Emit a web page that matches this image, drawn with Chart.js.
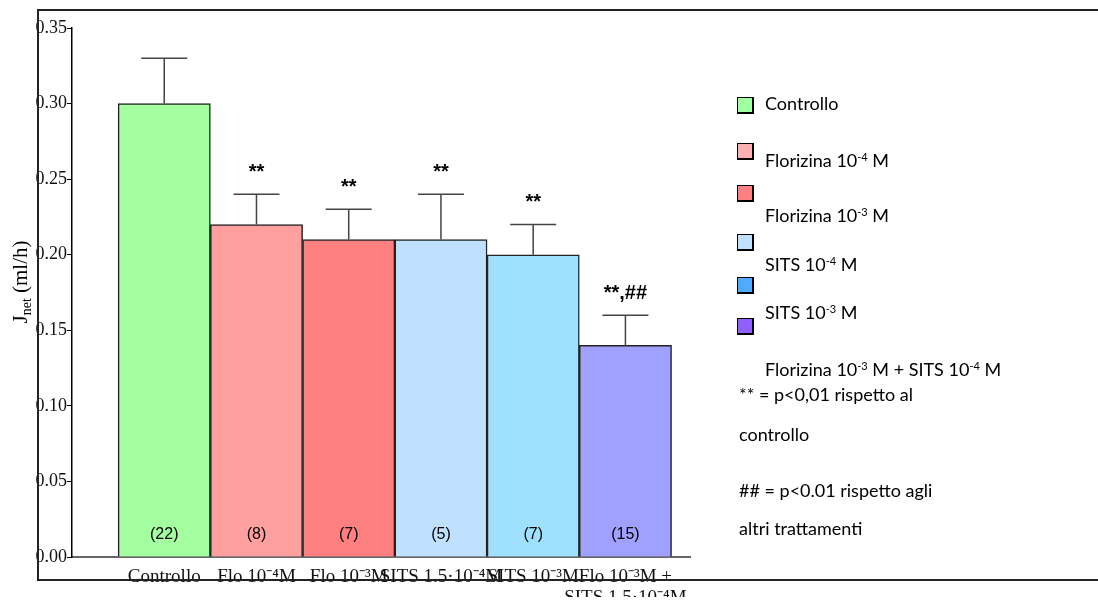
<!DOCTYPE html>
<html>
<head>
<meta charset="utf-8">
<script src="https://cdn.jsdelivr.net/npm/chart.js@4.4.1/dist/chart.umd.min.js"></script>
<style>
  html, body { margin:0; padding:0; background:#fff; }
  #wrap { position:relative; width:1098px; height:612px; }
  canvas { position:absolute; left:0; top:0; }
  .lg { position:absolute; font-family:'Comic Sans MS','Lato','Noto Sans',sans-serif; font-size:18px; color:#000; white-space:nowrap; line-height:1; transform:translateY(-50%); }
  .lg sup { font-size:11px; vertical-align:6px; line-height:0; }
  .sq { position:absolute; width:14px; height:14px; border:1px solid #000; border-right-width:2px; border-bottom-width:2px; }
</style>
</head>
<body>
<div id="wrap">
<canvas id="c" width="1098" height="612"></canvas>
</div>
<script>
// ---- data ----
const categories = ["Controllo", "Flo 10-4M", "Flo 10-3M", "SITS 1.5·10-4M", "SITS 10-3M", "Flo 10-3M + SITS 1.5·10-4M"];
const xLabels = ["Controllo", "Flo 10⁻⁴M", "Flo 10⁻³M", "SITS 1.5·10⁻⁴M", "SITS 10⁻³M", ["Flo 10⁻³M +", "SITS 1.5·10⁻⁴M"]];
const means = [0.30, 0.22, 0.21, 0.21, 0.20, 0.14];
const errors = [0.03, 0.02, 0.02, 0.03, 0.02, 0.02];
const nLabels = ["(22)", "(8)", "(7)", "(5)", "(7)", "(15)"];
const sigLabels = ["", "**", "**", "**", "**", "**,##"];
const barColors = ["#a3ff9f", "#ffa0a0", "#ff8080", "#c0e0ff", "#a0e0ff", "#a0a0ff"];
const yTicks = [0, 0.05, 0.10, 0.15, 0.20, 0.25, 0.30, 0.35];
const legendItems = ["Controllo", "Florizina 10<sup>-4</sup> M", "Florizina 10<sup>-3</sup> M", "SITS 10<sup>-4</sup> M", "SITS 10<sup>-3</sup> M"];
const legendColors = ["#a0ffa0", "#ffb0b0", "#ff8080", "#c0e0ff", "#50aaff", "#9060ff"];

// ---- plugins ----
const extras = {
  id: 'extras',
  afterDatasetsDraw(chart) {
    const ctx = chart.ctx;
    const meta = chart.getDatasetMeta(0);
    const ys = chart.scales.y;
    ctx.save();
    meta.data.forEach((bar, i) => {
      const yTop = bar.y;
      const yErr = ys.getPixelForValue(means[i] + errors[i]);
      ctx.strokeStyle = '#444';
      ctx.lineWidth = 1.5;
      ctx.beginPath();
      ctx.moveTo(bar.x, yTop);
      ctx.lineTo(bar.x, yErr);
      ctx.moveTo(bar.x - 23, yErr);
      ctx.lineTo(bar.x + 23, yErr);
      ctx.stroke();
      ctx.fillStyle = '#000';
      ctx.textAlign = 'center';
      ctx.textBaseline = 'middle';
      ctx.font = '16px "Liberation Sans", Arial, sans-serif';
      ctx.fillText(nLabels[i], bar.x, ys.getPixelForValue(0) - 22);
      if (sigLabels[i]) {
        ctx.font = 'bold 20px "Liberation Sans", Arial, sans-serif';
        ctx.fillText(sigLabels[i], bar.x, yErr - 22);
      }
    });
    ctx.restore();
  },
  afterDraw(chart) {
    const ctx = chart.ctx;
    ctx.save();
    // frame
    ctx.strokeStyle = '#222';
    ctx.lineWidth = 2;
    ctx.beginPath();
    ctx.moveTo(1098, 10);
    ctx.lineTo(38, 10);
    ctx.lineTo(38, 580);
    ctx.lineTo(1098, 580);
    ctx.stroke();
    // y title with subscript
    ctx.translate(21, 282);
    ctx.rotate(-Math.PI / 2);
    ctx.fillStyle = '#000';
    ctx.textBaseline = 'alphabetic';
    ctx.textAlign = 'left';
    const p1 = 'J', p2 = 'net', p3 = ' (ml/h)';
    ctx.font = '21px "Liberation Serif", serif';
    const w1 = ctx.measureText(p1).width;
    const w3 = ctx.measureText(p3).width;
    ctx.font = '14px "Liberation Serif", serif';
    const w2 = ctx.measureText(p2).width;
    let x = -(w1 + w2 + w3) / 2;
    ctx.font = '21px "Liberation Serif", serif';
    ctx.fillText(p1, x, 6); x += w1;
    ctx.font = '14px "Liberation Serif", serif';
    ctx.fillText(p2, x, 10); x += w2;
    ctx.font = '21px "Liberation Serif", serif';
    ctx.fillText(p3, x, 6);
    ctx.restore();
  }
};

new Chart(document.getElementById('c'), {
  type: 'bar',
  data: {
    datasets: [{
      data: means.map((v, i) => ({ x: i, y: v })),
      backgroundColor: barColors,
      borderColor: '#222',
      borderWidth: 1.5,
      barPercentage: 1,
      categoryPercentage: 1
    }]
  },
  options: {
    responsive: false,
    animation: false,
    events: [],
    layout: { padding: { left: 0, top: 28, right: 408, bottom: 15 } },
    plugins: { legend: { display: false }, tooltip: { enabled: false } },
    scales: {
      x: {
        type: 'linear',
        offset: false,
        min: -1,
        max: 5.7,
        afterFit(scale) { scale.height = 40; },
        afterBuildTicks(scale) { scale.ticks = categories.map((c, i) => ({ value: i })); },
        grid: { display: true, drawOnChartArea: false, drawTicks: false, offset: false },
        border: { display: true, color: '#666', width: 2 },
        ticks: {
          autoSkip: false, maxRotation: 0, minRotation: 0, padding: 10,
          color: '#111',
          font: { family: '"Liberation Serif", serif', size: 19, lineHeight: 1.1 },
          callback: (v) => xLabels[v]
        }
      },
      y: {
        min: 0,
        max: 0.35,
        afterFit(scale) { scale.width = 72; },
        afterBuildTicks(scale) { scale.ticks = yTicks.map(v => ({ value: v })); },
        grid: { drawOnChartArea: false, drawTicks: true, tickLength: 5, color: '#000', tickWidth: 1 },
        border: { display: true, color: '#000', width: 1.5 },
        ticks: {
          padding: 0,
          color: '#111',
          font: { family: '"Liberation Serif", serif', size: 18 },
          callback: (v) => v.toFixed(2)
        }
      }
    }
  },
  plugins: [extras]
});

// ---- HTML legend ----
const wrap = document.getElementById('wrap');
const sqTops = [97, 143, 185, 234, 277, 318];
const textYs = [103, 160, 215, 264, 312];
legendColors.forEach((c, i) => {
  const s = document.createElement('div');
  s.className = 'sq';
  s.style.left = '737px';
  s.style.top = sqTops[i] + 'px';
  s.style.background = c;
  wrap.appendChild(s);
});
legendItems.forEach((t, i) => {
  const d = document.createElement('div');
  d.className = 'lg';
  d.style.left = '765px';
  d.style.top = textYs[i] + 'px';
  d.innerHTML = t;
  wrap.appendChild(d);
});
const notes = [
  { x: 765, y: 369, html: "Florizina 10<sup>-3</sup> M + SITS 10<sup>-4</sup> M" },
  { x: 739, y: 394, html: "** = p&lt;0,01 rispetto al" },
  { x: 739, y: 434, html: "controllo" },
  { x: 739, y: 490, html: "## = p&lt;0.01 rispetto agli" },
  { x: 739, y: 528, html: "altri trattamenti" }
];
notes.forEach(n => {
  const d = document.createElement('div');
  d.className = 'lg';
  d.style.left = n.x + 'px';
  d.style.top = n.y + 'px';
  d.innerHTML = n.html;
  wrap.appendChild(d);
});
</script>
</body>
</html>
